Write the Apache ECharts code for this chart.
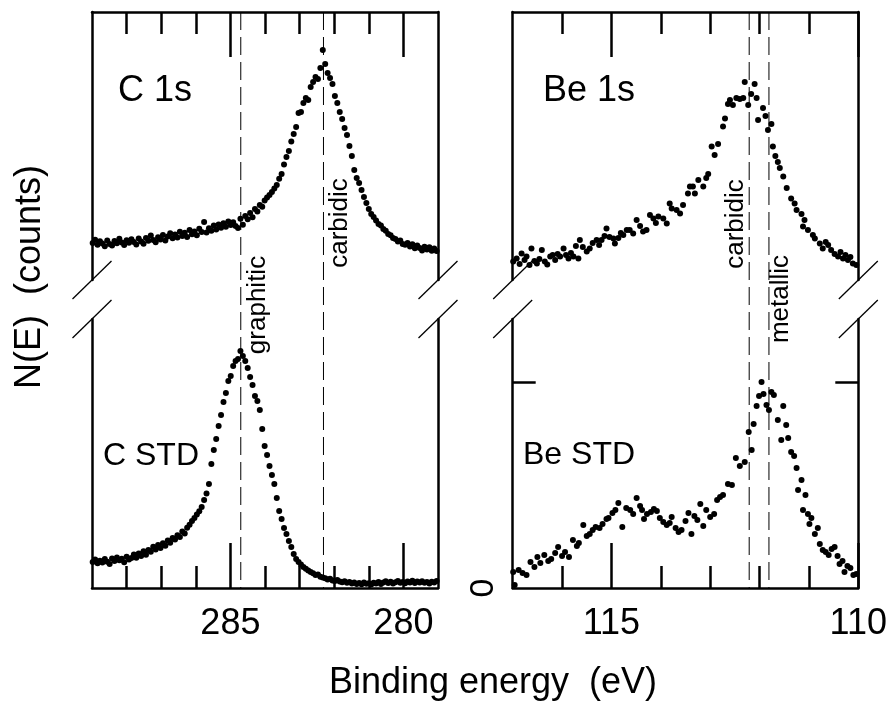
<!DOCTYPE html>
<html><head><meta charset="utf-8">
<script src="https://cdn.jsdelivr.net/npm/echarts@6/dist/echarts.min.js"></script>
<style>html,body{margin:0;padding:0;background:#fff}#c{width:891px;height:707px}</style>
</head><body><div id="c"></div>
<script>
// ---------- data ----------
const cRange = [279, 289];
const beRange = [110, 117];
const cMajorTicks = [280, 285];
const cMinorTicks = [281, 282, 283, 284, 286, 287, 288];
const beMajorTicks = [110, 115];
const beMinorTicks = [111, 112, 113, 114, 116];
const beStdCountTicks = [103];
const beStdCountLabels = [0];
const cRefEnergies = [284.70, 282.31];
const cRefNames = ['graphitic', 'carbidic'];
const beRefEnergies = [112.21, 111.81];
const beRefNames = ['carbidic', 'metallic'];
const xAxisTitle = 'Binding energy  (eV)';
const yAxisTitle = 'N(E)  (counts)';
const panelNames = ['C 1s', 'C STD', 'Be 1s', 'Be STD'];

const cSample = [
[288.98,18.5],[288.91,20.1],[288.84,17.6],[288.77,19.4],[288.70,18.2],[288.63,16.9],[288.56,19.8],[288.49,18.0],[288.42,17.3],[288.35,19.5],
[288.28,18.4],[288.21,20.6],[288.14,18.8],[288.07,17.5],[288.00,19.9],[287.93,18.6],[287.86,20.4],[287.79,19.0],[287.72,17.8],[287.65,20.8],
[287.58,19.3],[287.51,18.1],[287.44,21.0],[287.37,19.6],[287.30,22.2],[287.23,20.0],[287.16,18.9],[287.09,21.4],[287.02,20.3],[286.95,22.5],
[286.88,19.8],[286.81,21.7],[286.74,23.4],[286.67,20.9],[286.60,22.8],[286.53,21.2],[286.46,24.1],[286.39,22.0],[286.32,23.6],[286.25,21.5],
[286.18,25.0],[286.11,22.9],[286.04,24.3],[285.97,22.4],[285.90,25.6],[285.83,24.0],[285.76,29.0],[285.69,23.8],[285.62,25.9],[285.55,24.6],
[285.48,27.3],[285.41,25.2],[285.34,27.8],[285.27,26.1],[285.20,28.4],[285.13,26.6],[285.06,29.2],[284.99,27.5],[284.92,28.9],[284.85,27.0],
[284.78,26.0],[284.71,30.6],[284.64,27.6],[284.57,32.0],[284.50,30.4],[284.43,33.5],[284.36,31.4],[284.29,35.5],[284.22,34.2],[284.15,37.5],
[284.08,36.6],[284.01,39.8],[283.94,41.2],[283.87,42.5],[283.80,44.0],[283.73,45.8],[283.66,47.5],[283.59,50.6],[283.52,53.0],[283.45,57.8],
[283.38,61.5],[283.31,64.5],[283.24,69.2],[283.17,73.0],[283.10,76.5],[283.03,83.5],[282.96,84.0],[282.89,88.5],[282.82,91.0],[282.75,90.0],
[282.68,96.5],[282.61,99.0],[282.54,101.5],[282.47,100.5],[282.40,106.0],[282.33,115.0],[282.26,108.0],[282.19,103.5],[282.12,101.0],[282.05,98.0],
[281.98,92.0],[281.91,88.5],[281.84,84.0],[281.77,80.5],[281.70,76.0],[281.63,72.5],[281.56,67.0],[281.49,62.0],[281.42,55.0],[281.35,51.0],
[281.28,48.5],[281.21,45.0],[281.14,41.5],[281.07,38.5],[281.00,35.5],[280.93,33.0],[280.86,31.5],[280.79,29.8],[280.72,28.0],[280.65,27.2],
[280.58,25.5],[280.51,24.6],[280.44,23.0],[280.37,22.4],[280.30,21.0],[280.23,20.5],[280.16,19.2],[280.09,19.8],[280.02,18.0],[279.95,17.6],
[279.88,18.5],[279.81,16.8],[279.74,17.9],[279.67,15.9],[279.60,17.2],[279.53,16.0],[279.46,14.8],[279.39,16.6],[279.32,15.3],[279.25,16.4],
[279.18,14.6],[279.11,15.8],[279.04,14.5]
];

const cStd = [
[288.98,13.0],[288.91,14.2],[288.84,12.4],[288.77,13.6],[288.70,12.8],[288.63,14.5],[288.56,13.1],[288.49,12.0],[288.42,14.8],[288.35,13.5],
[288.28,15.2],[288.21,13.9],[288.14,14.6],[288.07,12.9],[288.00,15.6],[287.93,14.3],[287.86,15.0],[287.79,16.8],[287.72,15.1],[287.65,17.3],
[287.58,16.0],[287.51,18.4],[287.44,16.6],[287.37,19.0],[287.30,18.1],[287.23,20.6],[287.16,19.2],[287.09,21.5],[287.02,20.0],[286.95,22.4],
[286.88,21.1],[286.81,23.8],[286.74,22.6],[286.67,25.0],[286.60,24.2],[286.53,26.4],[286.46,25.5],[286.39,28.3],[286.32,27.2],[286.25,30.1],
[286.18,31.6],[286.11,33.5],[286.04,35.0],[285.97,36.8],[285.90,38.4],[285.83,40.5],[285.76,44.0],[285.69,47.2],[285.62,52.0],[285.55,62.0],
[285.48,69.0],[285.41,74.5],[285.34,81.0],[285.27,86.5],[285.20,93.0],[285.13,97.5],[285.06,103.5],[284.99,106.0],[284.92,111.0],[284.85,113.5],
[284.78,114.5],[284.71,118.5],[284.64,116.0],[284.57,113.5],[284.50,110.0],[284.43,105.5],[284.36,101.5],[284.29,96.0],[284.22,93.5],[284.15,89.0],
[284.08,79.5],[284.01,71.0],[283.94,66.5],[283.87,61.0],[283.80,56.5],[283.73,52.0],[283.66,45.0],[283.59,38.5],[283.52,34.5],[283.45,30.0],
[283.38,27.0],[283.31,23.5],[283.24,20.5],[283.17,17.0],[283.10,14.5],[283.03,13.0],[282.96,11.8],[282.89,10.5],[282.82,9.6],[282.75,8.8],
[282.68,8.0],[282.61,7.4],[282.54,6.5],[282.47,6.8],[282.40,5.6],[282.33,5.2],[282.26,4.9],[282.19,4.3],[282.12,4.6],[282.05,3.8],
[281.98,3.5],[281.91,4.0],[281.84,3.2],[281.77,2.9],[281.70,3.4],[281.63,2.6],[281.56,3.0],[281.49,2.2],[281.42,2.8],[281.35,2.0],
[281.28,2.5],[281.21,1.9],[281.14,2.7],[281.07,2.1],[281.00,2.4],[280.93,1.8],[280.86,2.6],[280.79,2.2],[280.72,3.0],[280.65,2.0],
[280.58,2.8],[280.51,3.4],[280.44,2.5],[280.37,3.1],[280.30,2.3],[280.23,2.9],[280.16,3.5],[280.09,2.6],[280.02,3.0],[279.95,2.4],
[279.88,3.3],[279.81,2.7],[279.74,3.6],[279.67,2.5],[279.60,3.2],[279.53,2.8],[279.46,3.4],[279.39,2.6],[279.32,3.0],[279.25,2.3],
[279.18,3.1],[279.11,2.7],[279.04,3.5]
];

const beSample = [
[116.99,9.2],[116.92,10.8],[116.86,8.0],[116.82,13.3],[116.76,10.0],[116.72,11.7],[116.66,7.5],[116.62,15.8],[116.56,9.5],[116.51,8.3],
[116.46,10.5],[116.41,15.0],[116.35,9.2],[116.30,7.8],[116.24,11.7],[116.19,12.5],[116.14,10.0],[116.09,13.0],[116.04,11.7],[115.97,15.8],
[115.92,12.5],[115.87,10.8],[115.82,13.5],[115.77,11.7],[115.72,17.0],[115.67,10.8],[115.64,20.0],[115.58,16.5],[115.50,14.2],[115.44,15.8],
[115.38,18.5],[115.30,20.0],[115.25,17.5],[115.20,20.0],[115.14,22.0],[115.10,25.8],[115.04,21.5],[114.96,20.8],[114.93,18.3],[114.86,21.0],
[114.81,23.5],[114.76,22.5],[114.69,25.0],[114.63,25.0],[114.56,23.3],[114.49,30.0],[114.42,27.0],[114.36,24.2],[114.29,25.0],[114.22,32.5],
[114.15,30.8],[114.10,28.5],[114.05,31.7],[113.95,30.8],[113.88,28.3],[113.82,38.3],[113.78,35.8],[113.68,35.0],[113.61,33.3],[113.55,37.5],
[113.45,43.3],[113.41,46.7],[113.35,46.7],[113.31,43.3],[113.24,50.0],[113.14,46.7],[113.08,51.0],[113.04,53.0],[112.97,66.7],[112.91,62.5],
[112.84,68.0],[112.74,76.7],[112.70,80.8],[112.64,88.0],[112.60,90.0],[112.54,87.5],[112.47,91.0],[112.40,90.5],[112.33,91.0],[112.30,99.0],
[112.23,87.5],[112.17,93.0],[112.10,98.0],[112.06,91.0],[112.03,80.0],[111.93,86.0],[111.88,82.0],[111.83,75.0],[111.76,78.0],[111.73,66.7],
[111.68,62.0],[111.63,59.0],[111.59,56.0],[111.52,51.7],[111.45,46.0],[111.36,40.8],[111.29,38.3],[111.25,35.0],[111.15,33.0],[111.12,26.7],
[111.09,30.0],[111.02,25.0],[110.92,22.5],[110.88,20.8],[110.78,18.3],[110.72,15.8],[110.66,19.0],[110.61,17.5],[110.55,15.0],[110.48,13.0],
[110.41,11.7],[110.36,14.0],[110.31,10.8],[110.26,12.5],[110.21,10.0],[110.16,11.5],[110.11,8.3],[110.04,7.5]
];

const beStd = [
[116.99,8.0],[116.96,1.5],[116.88,9.0],[116.80,7.5],[116.72,6.5],[116.64,13.0],[116.56,10.5],[116.50,15.5],[116.44,12.5],[116.36,16.5],
[116.28,13.5],[116.22,14.5],[116.14,17.5],[116.08,20.5],[116.00,16.0],[115.94,18.0],[115.86,15.5],[115.78,24.0],[115.70,21.0],[115.66,22.5],
[115.57,31.5],[115.50,26.0],[115.44,27.0],[115.38,29.0],[115.32,30.5],[115.24,30.0],[115.18,32.0],[115.10,34.5],[115.06,35.0],[114.98,37.5],
[114.92,39.0],[114.86,42.5],[114.78,30.5],[114.70,40.0],[114.62,39.0],[114.56,37.0],[114.49,45.0],[114.42,41.0],[114.38,39.0],[114.34,34.5],
[114.28,37.0],[114.20,38.0],[114.14,39.5],[114.08,38.5],[114.02,35.0],[113.95,33.0],[113.88,31.5],[113.82,32.5],[113.78,35.5],[113.70,30.0],
[113.64,28.0],[113.58,29.0],[113.50,33.5],[113.44,37.5],[113.38,27.0],[113.32,36.0],[113.26,34.0],[113.20,42.0],[113.14,31.0],[113.08,39.0],
[113.00,35.5],[112.92,37.0],[112.86,44.0],[112.80,45.5],[112.74,46.5],[112.64,52.0],[112.56,51.5],[112.48,65.0],[112.40,61.0],[112.30,63.0],
[112.22,78.0],[112.16,69.0],[112.12,82.0],[112.06,91.0],[112.01,96.0],[111.96,103.0],[111.92,97.0],[111.86,91.5],[111.81,89.0],[111.76,98.0],
[111.71,96.5],[111.63,84.0],[111.56,74.0],[111.52,91.0],[111.46,81.5],[111.42,75.0],[111.36,68.0],[111.30,66.0],[111.25,60.0],[111.22,49.0],
[111.15,54.0],[111.12,39.0],[111.07,46.5],[111.02,37.0],[110.99,32.0],[110.95,35.0],[110.88,27.0],[110.82,30.0],[110.78,22.0],[110.72,19.0],
[110.66,18.0],[110.60,16.5],[110.54,19.5],[110.48,20.5],[110.42,16.0],[110.38,12.0],[110.32,13.5],[110.28,8.0],[110.22,11.0],[110.16,10.0],
[110.10,6.5],[110.04,7.0]
];

// ---------- layout / style ----------
const FONT = 'Liberation Sans, Arial, Helvetica, sans-serif';
const LW = 2.5;
const panels = [{left: 92, width: 346}, {left: 512.7, width: 345.6}];
const rows = [{top: 12, height: 268}, {top: 319, height: 269}];
const countMax = [134, 134.5];

const chart = echarts.init(document.getElementById('c'), null, {renderer: 'canvas'});

const grids = [];
const xAxes = [];
const yAxes = [];
const series = [];

function xAxisDef(gi, range, pos, ticks, len, showLine, labels) {
  return {
    type: 'value', gridIndex: gi, position: pos, min: range[0], max: range[1], inverse: true,
    axisLine: {show: showLine, onZero: false, lineStyle: {color: '#000', width: LW}},
    axisTick: {show: true, inside: true, length: len, customValues: ticks, lineStyle: {color: '#000', width: LW}},
    axisLabel: labels ? {show: true, customValues: labels, fontSize: 36, fontFamily: FONT, color: '#000', margin: 18} : {show: false},
    splitLine: {show: false}
  };
}
function yAxisDef(gi, max, pos, ticks, labels) {
  return {
    type: 'value', gridIndex: gi, position: pos, min: 0, max: max,
    axisLine: {show: true, onZero: false, lineStyle: {color: '#000', width: LW}},
    axisTick: ticks ? {show: true, inside: true, length: 23, customValues: ticks, lineStyle: {color: '#000', width: LW}} : {show: false},
    axisLabel: labels ? {show: true, customValues: labels, rotate: 90, fontSize: 34, fontFamily: FONT, color: '#000', margin: 12} : {show: false},
    splitLine: {show: false}
  };
}

const panelDefs = [
  {range: cRange, major: cMajorTicks, minor: cMinorTicks, data: [cSample, cStd]},
  {range: beRange, major: beMajorTicks, minor: beMinorTicks, data: [beSample, beStd]}
];

panelDefs.forEach((p, pi) => {
  rows.forEach((r, ri) => {
    const gi = grids.length;
    grids.push({left: panels[pi].left, width: panels[pi].width, top: r.top, height: r.height, containLabel: false});
    const pos = ri === 0 ? 'top' : 'bottom';
    const xi = xAxes.length;
    xAxes.push(xAxisDef(gi, p.range, pos, p.major, 45, true, ri === 1 ? p.major : null));
    xAxes.push(xAxisDef(gi, p.range, pos, p.minor, 22, false, null));
    const yi = yAxes.length;
    const isBeStd = (pi === 1 && ri === 1);
    yAxes.push(yAxisDef(gi, countMax[ri], 'left', isBeStd ? beStdCountTicks : null, isBeStd ? beStdCountLabels : null));
    yAxes.push(yAxisDef(gi, countMax[ri], 'right', isBeStd ? beStdCountTicks : null, null));
    series.push({
      type: 'scatter', xAxisIndex: xi, yAxisIndex: yi, data: p.data[ri],
      symbol: 'circle', symbolSize: 6, itemStyle: {color: '#000', opacity: 1}, silent: true, animation: false
    });
  });
});

// full-height hidden grids for reference lines
panelDefs.forEach((p, pi) => {
  const gi = grids.length;
  grids.push({left: panels[pi].left, width: panels[pi].width, top: rows[0].top, height: rows[1].top + rows[1].height - rows[0].top});
  xAxes.push({type: 'value', gridIndex: gi, min: p.range[0], max: p.range[1], inverse: true, show: false});
  yAxes.push({type: 'value', gridIndex: gi, min: 0, max: 1, show: false});
});

chart.setOption({
  animation: false,
  backgroundColor: '#fff',
  grid: grids, xAxis: xAxes, yAxis: yAxes, series: series
});

// ---------- decorations ----------
const g = [];
const yTopPx = rows[0].top, yBotPx = rows[1].top + rows[1].height;
const refSets = [
  {axis: xAxes.length - 2, energies: cRefEnergies, names: cRefNames, offs: [[17.5, 305], [16, 223]]},
  {axis: xAxes.length - 1, energies: beRefEnergies, names: beRefNames, offs: [[-13, 224], [11.5, 299]]}
];
refSets.forEach(rs => {
  rs.energies.forEach((e, i) => {
    const px = chart.convertToPixel({xAxisIndex: rs.axis}, e);
    g.push({type: 'line', shape: {x1: px, y1: yTopPx, x2: px, y2: yBotPx},
      style: {stroke: '#000', lineWidth: 1, lineDash: [18, 7]}, silent: true, z: 5});
    g.push({type: 'text', x: px + rs.offs[i][0], y: rs.offs[i][1], rotation: Math.PI / 2,
      style: {text: rs.names[i], font: '26px ' + FONT, fill: '#000', align: 'center', verticalAlign: 'middle'}, z: 6});
  });
});
// axis break marks
panels.forEach(p => {
  [p.left, p.left + p.width].forEach(x => {
    [rows[0].top + rows[0].height, rows[1].top].forEach(y => {
      g.push({type: 'line', shape: {x1: x - 19.5, y1: y + 19, x2: x + 19.5, y2: y - 19},
        style: {stroke: '#000', lineWidth: 1.3}, silent: true, z: 5});
    });
  });
});
// panel names
const nameSpots = [[118, 91, 36], [103, 456, 32], [543, 91, 36], [523, 455, 32]];
panelNames.forEach((n, i) => {
  g.push({type: 'text', x: nameSpots[i][0], y: nameSpots[i][1],
    style: {text: n, font: nameSpots[i][2] + 'px ' + FONT, fill: '#000', align: 'left', verticalAlign: 'middle'}, z: 6});
});
// axis titles
g.push({type: 'text', x: 493, y: 683, style: {text: xAxisTitle, font: '36px ' + FONT, fill: '#000', align: 'center', verticalAlign: 'middle'}});
g.push({type: 'text', x: 30, y: 277, rotation: Math.PI / 2, style: {text: yAxisTitle, font: '36px ' + FONT, fill: '#000', align: 'center', verticalAlign: 'middle'}});

chart.setOption({graphic: {elements: g}});
</script>
</body></html>
